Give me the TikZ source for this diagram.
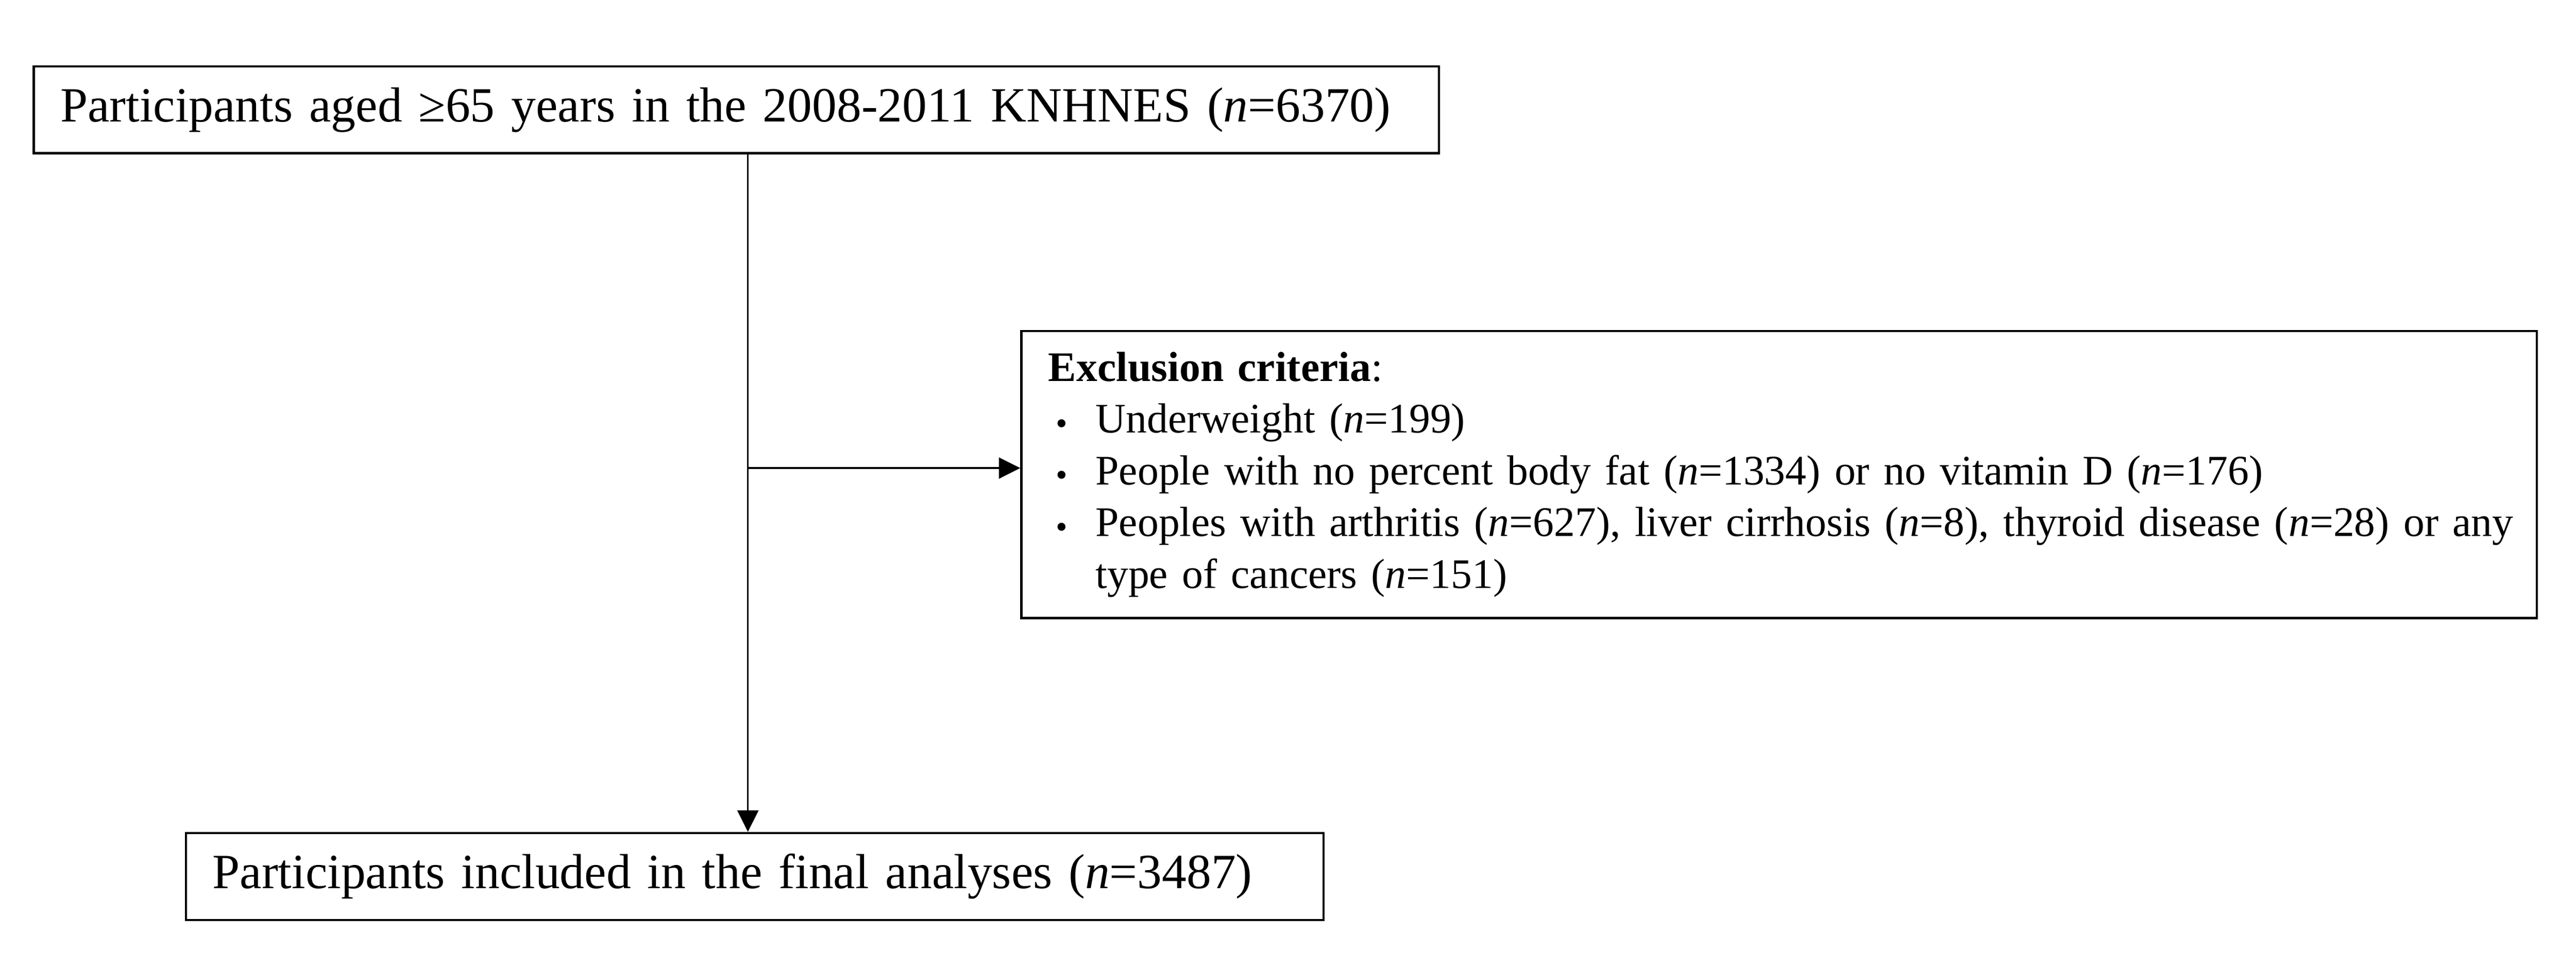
\documentclass[tikz,border=0pt]{standalone}
\usepackage{fontspec}
\setmainfont{Liberation Serif}
\usetikzlibrary{arrows.meta,positioning}
\tikzset{
>={Triangle[length=5.1pt,width=5pt]},
casella/.style={draw,line width=0.55pt,inner xsep=6.3pt,align=left,anchor=north west,font=\fontsize{11.7}{14}\selectfont},
freccia/.style={->,line width=0.42pt}}
\newcommand{\punto}{\makebox[11.2pt][l]{\hspace{1.2pt}\raisebox{1.5pt}{\fontsize{16}{16}\selectfont.}}}

\begin{document}
\begin{tikzpicture}[x=1pt,y=1pt]

\useasboundingbox (0,0) rectangle (612,-226.56);

\node[casella,text width=321.2pt,minimum height=20.64pt] (partecipanti) at (7.76,-15.52)
  {Participants aged ≥65 years in the 2008-2011 KNHNES (\textit{n}=6370)};
\node[casella,text width=347.2pt,inner xsep=6.4pt,minimum height=68.24pt,font=\fontsize{10}{12.3}\selectfont] (esclusi) at (242.4,-78.4)
  {\textbf{Exclusion criteria}:\\
   \punto Underweight (\textit{n}=199)\\
   \punto People with no percent body fat (\textit{n}=1334) or no vitamin D (\textit{n}=176)\\
   \mbox{\punto Peoples with arthritis (\textit{n}=627), liver cirrhosis (\textit{n}=8), thyroid disease (\textit{n}=28) or any}\\
   \hspace*{11.2pt}type of cancers (\textit{n}=151)};
\node[casella,text width=257.64pt,minimum height=20.72pt] (finale) at (43.92,-197.76)
  {Participants included in the final analyses (\textit{n}=3487)};

\coordinate (bivio) at (177.68,-111.28);

\draw[freccia] (bivio |- partecipanti.south) -- (bivio |- finale.north);
\draw[freccia] (bivio) -- (bivio -| esclusi.west);

\end{tikzpicture}
\end{document}
